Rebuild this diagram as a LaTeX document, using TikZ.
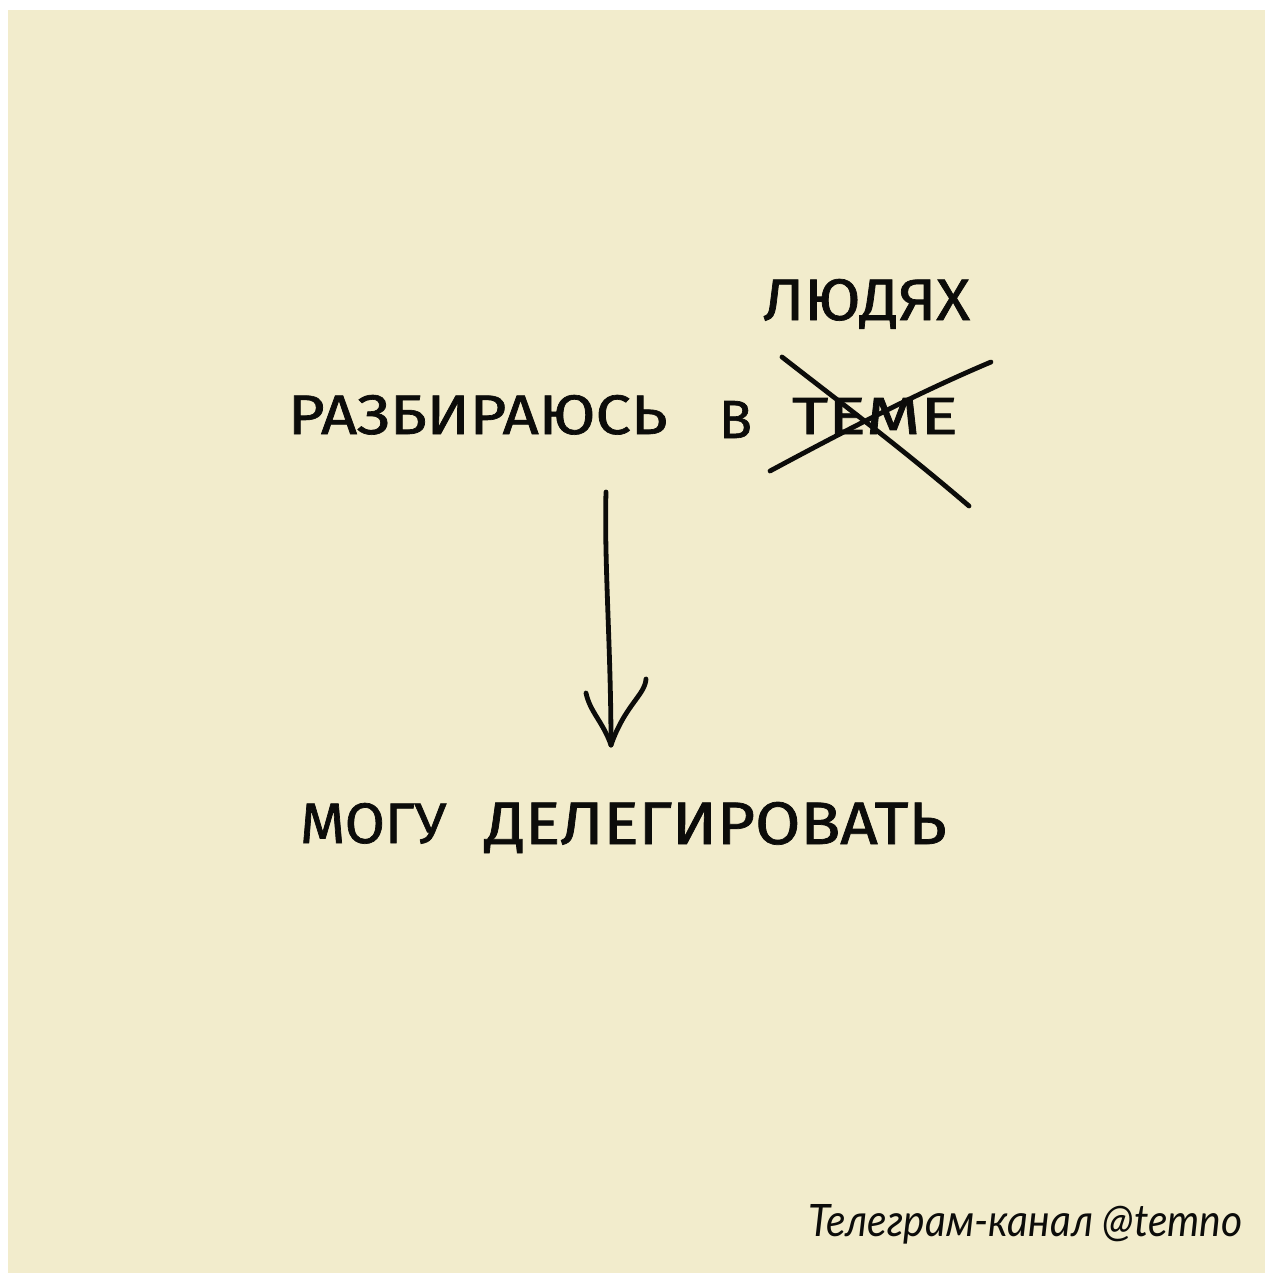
\documentclass[tikz,border=0pt]{standalone}
\usepackage{fontspec}
\setmainfont{Fira Sans}
\newfontfamily\handfont{Fira Sans}[FakeBold=1.2]
\newfontfamily\footfont{Lato}
\definecolor{paper}{RGB}{242,236,204}
\definecolor{ink}{RGB}{12,12,10}
\tikzset{
  hand/.style={inner sep=0pt, outer sep=0pt, text=ink, font=\handfont},
  stroke/.style={draw=ink, line width=4.8pt, line cap=round, line join=round},
}
\newcommand{\fitbox}[3]{\resizebox{#1pt}{#2pt}{#3}}
\begin{document}
\begin{tikzpicture}[x=1pt,y=-1pt]
\useasboundingbox (0,0) rectangle (1265,1273);
\fill[white] (0,0) rectangle (1265,1273);
\fill[paper] (8,10) rectangle (1265,1273);

% upper line
\node[hand, anchor=north west] (w1) at (288,395) {\fitbox{379}{39}{РАЗБИРАЮСЬ}};
\node[hand, anchor=north west] (w2) at (719,401) {\fitbox{33}{37}{В}};
\node[hand, anchor=north west] (w3) at (792,398) {\fitbox{166}{36}{ТЕМЕ}};
\node[hand, anchor=north west] (w4) at (763,279) {\fitbox{207}{41}{ЛЮДЯХ}};

% cross-out
\coordinate (c1) at (782,357);
\coordinate (c2) at (969,506);
\coordinate (c3) at (770,471);
\coordinate (c4) at (991,362);
\draw[stroke] (c1) .. controls (850,410) and (900,447) .. (c2);
\draw[stroke] (c3) .. controls (850,428) and (920,392) .. (c4);

% arrow
\coordinate (a0) at (606,492);
\coordinate (a1) at (611,745);
\coordinate (l0) at (586,693);
\coordinate (r0) at (646,679);
\draw[stroke] (a0) .. controls (604,560) and (611,650) .. (a1);
\draw[stroke] (l0) .. controls (590,712) and (603,722) .. (a1);
\draw[stroke] (r0) .. controls (645,695) and (625,705) .. (a1);

% lower line
\node[hand, anchor=north west] (w5) at (300,803) {\fitbox{146}{40}{МОГУ}};
\node[hand, anchor=north west] (w6) at (485,802) {\fitbox{461}{42}{ДЕЛЕГИРОВАТЬ}};

% footer
\node[inner sep=0pt, anchor=south west, text=ink] (foot) at (808,1244)
  {\fitbox{434}{32}{\footfont\itshape Телеграм-канал @temno}};
\end{tikzpicture}
\end{document}
